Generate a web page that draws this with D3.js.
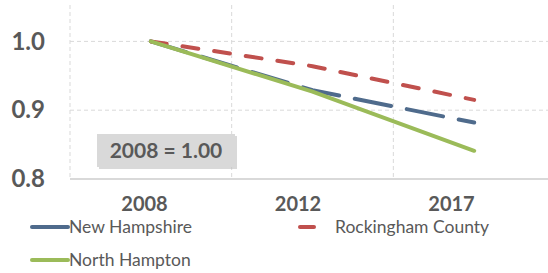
<!DOCTYPE html>
<html>
<head>
<meta charset="utf-8">
<script src="https://cdn.jsdelivr.net/npm/d3@7"></script>
<style>
  body { margin: 0; background: #fff; }
  text { font-family: Lato, "Open Sans", sans-serif; fill: #595959; }
</style>
</head>
<body>
<div class="chart"></div>
<script>
const years = ["2008", "2012", "2017"];
const seriesNames = ["New Hampshire", "Rockingham County", "North Hampton"];
const newHampshire = [1.0, 0.929, 0.882];
const rockingham = [1.0, 0.964, 0.915];
const northHampton = [1.0, 0.927, 0.841];
const yTicks = [0.8, 0.9, 1.0];
const noteText = "2008 = 1.00";

var w = 548,
	h = 273,
	plotLeft = 70,
	plotTop = 7,
	plotBottom = 179;

const series = [
	{ name: seriesNames[0], values: newHampshire, color: "#4f6b8c", dash: "37,16" },
	{ name: seriesNames[1], values: rockingham, color: "#c0504d", dash: "16,16" },
	{ name: seriesNames[2], values: northHampton, color: "#9bbb59", dash: null }
];

const svg = d3.select(".chart").append("svg").attr("width", w).attr("height", h);

const xScale = d3.scaleBand().domain(years).range([plotLeft, 555]);
const labelScale = d3.scalePoint().domain(years).range([144, 451]);
const yScale = d3.scaleLinear().domain([0.8, 1.05]).range([plotBottom, plotTop]);

// grid
svg.append("g")
	.selectAll("line")
	.data(years)
	.enter()
	.append("line")
	.attr("x1", (d) => xScale(d))
	.attr("x2", (d) => xScale(d))
	.attr("y1", plotTop - 2)
	.attr("y2", plotBottom)
	.attr("stroke", "#d9d9d9")
	.attr("stroke-dasharray", "4,3");

svg.append("g")
	.selectAll("line")
	.data(yTicks.slice(1))
	.enter()
	.append("line")
	.attr("x1", plotLeft)
	.attr("x2", w)
	.attr("y1", (d) => yScale(d))
	.attr("y2", (d) => yScale(d))
	.attr("stroke", "#d9d9d9")
	.attr("stroke-dasharray", "4,3");

// axes
const yAxis = d3.axisLeft(yScale).tickValues(yTicks).tickFormat(d3.format(".1f")).tickSize(0).tickPadding(0);
const yg = svg.append("g").attr("transform", "translate(45,0)").call(yAxis);
yg.select(".domain").remove();
yg.selectAll("text")
	.attr("font-size", 24)
	.attr("font-weight", "bold")
	.attr("font-family", "Lato, sans-serif")
	.attr("fill", "#595959");

const xAxis = d3.axisBottom(labelScale).tickSize(0).tickPadding(0);
const xg = svg.append("g").attr("transform", "translate(0,211)").call(xAxis);
xg.select(".domain").remove();
xg.selectAll("text")
	.attr("dy", 0)
	.attr("font-size", 20)
	.attr("font-weight", "bold")
	.attr("font-family", "Lato, sans-serif")
	.attr("fill", "#595959");

svg.append("line")
	.attr("x1", plotLeft)
	.attr("x2", w)
	.attr("y1", plotBottom)
	.attr("y2", plotBottom)
	.attr("stroke", "#d9d9d9")
	.attr("stroke-width", 2);

// lines
const line = d3.line()
	.x((d, i) => xScale(years[i]) + xScale.bandwidth() / 2)
	.y((d) => yScale(d));

svg.selectAll(".series")
	.data(series)
	.enter()
	.append("path")
	.attr("class", "series")
	.attr("d", (d) => line(d.values))
	.attr("fill", "none")
	.attr("stroke", (d) => d.color)
	.attr("stroke-width", 4)
	.attr("stroke-linecap", "round")
	.attr("stroke-dasharray", (d) => d.dash);

// note box
const note = svg.append("g");
note.append("rect")
	.attr("x", 99)
	.attr("y", 136)
	.attr("width", 138)
	.attr("height", 33)
	.attr("fill", "#bfbfbf")
	.attr("opacity", 0.6);
note.append("rect")
	.attr("x", 97)
	.attr("y", 134)
	.attr("width", 138)
	.attr("height", 33)
	.attr("fill", "#d9d9d9");
note.append("text")
	.attr("x", 166)
	.attr("y", 158)
	.attr("text-anchor", "middle")
	.attr("font-size", 21)
	.attr("font-weight", "bold")
	.text(noteText);

// legend
const legendPos = [
	{ lx1: 32, lx2: 68, ly: 227, tx: 69 },
	{ lx1: 300, lx2: 314, ly: 227, tx: 335 },
	{ lx1: 32, lx2: 68, ly: 260, tx: 69 }
];

const legend = svg.selectAll(".legend")
	.data(series)
	.enter()
	.append("g")
	.attr("class", "legend");

legend.append("line")
	.attr("x1", (d, i) => legendPos[i].lx1)
	.attr("x2", (d, i) => legendPos[i].lx2)
	.attr("y1", (d, i) => legendPos[i].ly)
	.attr("y2", (d, i) => legendPos[i].ly)
	.attr("stroke", (d) => d.color)
	.attr("stroke-width", 4)
	.attr("stroke-linecap", "round");

legend.append("text")
	.attr("x", (d, i) => legendPos[i].tx)
	.attr("y", (d, i) => legendPos[i].ly + 6)
	.attr("font-size", 17.5)
	.text((d) => d.name);
</script>
</body>
</html>
